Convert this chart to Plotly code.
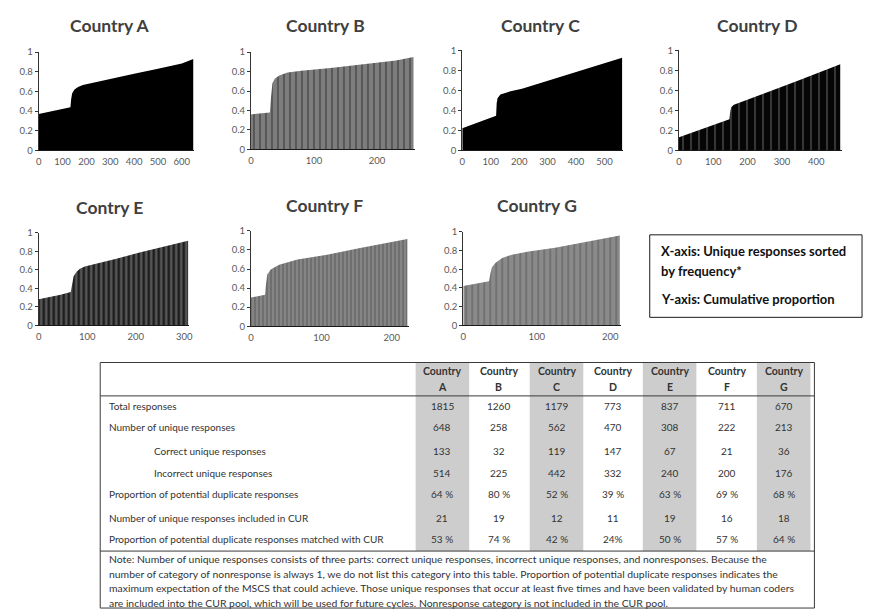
import plotly.graph_objects as go

W, H = 869, 615

# ---- cumulative proportion of responses, read at selected ranks ----
rank_a = [0, 20, 60, 100, 133, 136, 140, 150, 165, 185, 220, 300, 400, 500, 600, 648]
cum_a = [0.37, 0.38, 0.40, 0.42, 0.44, 0.52, 0.58, 0.62, 0.645, 0.665, 0.685, 0.725, 0.78, 0.83, 0.885, 0.93]

rank_b = [0, 10, 20, 30, 32, 34, 38, 45, 58, 80, 130, 180, 230, 258]
cum_b = [0.36, 0.365, 0.37, 0.38, 0.55, 0.68, 0.73, 0.76, 0.79, 0.81, 0.84, 0.875, 0.915, 0.95]

rank_c = [0, 40, 80, 119, 121, 124, 134, 150, 170, 210, 300, 400, 500, 562]
cum_c = [0.22, 0.26, 0.30, 0.345, 0.47, 0.52, 0.557, 0.575, 0.59, 0.616, 0.695, 0.783, 0.872, 0.925]

rank_d = [0, 50, 100, 147, 149, 152, 160, 175, 190, 250, 300, 350, 400, 470]
cum_d = [0.13, 0.19, 0.25, 0.31, 0.38, 0.43, 0.455, 0.475, 0.49, 0.57, 0.635, 0.70, 0.767, 0.86]

rank_e = [0, 20, 45, 66, 69, 72, 78, 85, 95, 116, 160, 210, 260, 308]
cum_e = [0.28, 0.30, 0.33, 0.36, 0.45, 0.53, 0.58, 0.61, 0.635, 0.665, 0.72, 0.79, 0.855, 0.915]

rank_f = [0, 10, 20, 21, 23, 28, 40, 66, 108, 155, 222]
cum_f = [0.30, 0.315, 0.33, 0.42, 0.54, 0.595, 0.645, 0.70, 0.75, 0.82, 0.915]

rank_g = [0, 15, 35, 37, 39, 44, 53, 66, 89, 125, 161, 213]
cum_g = [0.42, 0.44, 0.47, 0.56, 0.62, 0.67, 0.72, 0.755, 0.79, 0.83, 0.88, 0.96]

panel_titles = ["Country A", "Country B", "Country C", "Country D",
                "Contry E", "Country F", "Country G"]
panel_ranks = [rank_a, rank_b, rank_c, rank_d, rank_e, rank_f, rank_g]
panel_cums = [cum_a, cum_b, cum_c, cum_d, cum_e, cum_f, cum_g]

# ---- summary table ----
table_countries = ["A", "B", "C", "D", "E", "F", "G"]
row_labels = [
    "Total responses",
    "Number of unique responses",
    "Correct unique responses",
    "Incorrect unique responses",
    "Proportion of potential duplicate responses",
    "Number of unique responses included in CUR",
    "Proportion of potential duplicate responses matched with CUR",
]
row_indented = [False, False, True, True, False, False, False]
total_responses = [1815, 1260, 1179, 773, 837, 711, 670]
unique_responses = [648, 258, 562, 470, 308, 222, 213]
correct_unique = [133, 32, 119, 147, 67, 21, 36]
incorrect_unique = [514, 225, 442, 332, 240, 200, 176]
duplicate_share = ["64 %", "80 %", "52 %", "39 %", "63 %", "69 %", "68 %"]
cur_included = [21, 19, 12, 11, 19, 16, 18]
cur_matched = ["53 %", "74 %", "42 %", "24%", "50 %", "57 %", "64 %"]
table_rows = [total_responses, unique_responses, correct_unique, incorrect_unique,
              duplicate_share, cur_included, cur_matched]

note_lines = [
    "Note: Number of unique responses consists of three parts: correct unique responses, incorrect unique responses, and nonresponses. Because the",
    "number of category of nonresponse is always 1, we do not list this category into this table. Proportion of potential duplicate responses indicates the",
    "maximum expectation of the MSCS that could achieve. Those unique responses that occur at least five times and have been validated by human coders",
    "are included into the CUR pool, which will be used for future cycles. Nonresponse category is not included in the CUR pool.",
]

legend_lines = ["X-axis: Unique responses sorted", "by frequency*", "Y-axis: Cumulative proportion"]


def fx(px):
    return px / W


def fy(py):
    return 1 - py / H


# panel geometry in pixels: x-origin, px per unit, x max, y of 1, y of 0, x dtick, title centre
panel_geom = [
    dict(x0=36, k=0.2405, xmax=650, yt=47, yb=147, dt=100, tx=108, ty=20),
    dict(x0=250, k=0.635, xmax=260, yt=47, yb=146, dt=100, tx=325, ty=20),
    dict(x0=463, k=0.2867, xmax=565, yt=45, yb=147, dt=100, tx=542, ty=20),
    dict(x0=681.5, k=0.3458, xmax=475, yt=45, yb=147, dt=100, tx=760, ty=20),
    dict(x0=36, k=0.489, xmax=310, yt=231, yb=325, dt=100, tx=107, ty=205),
    dict(x0=250, k=0.71, xmax=225, yt=229, yb=326, dt=100, tx=324, ty=203),
    dict(x0=464, k=0.741, xmax=215, yt=230, yb=325, dt=100, tx=538, ty=203),
]

# fill look of each panel: solid black or striped grey columns
panel_fill = [
    dict(color="#000000", pattern=None),
    dict(color="#7d7d7d", pattern=dict(shape="|", bgcolor="#7d7d7d", fgcolor="#1a1a1a", size=6, solidity=0.25)),
    dict(color="#000000", pattern=None),
    dict(color="#050505", pattern=dict(shape="|", bgcolor="#050505", fgcolor="#8f8f8f", size=8, solidity=0.18)),
    dict(color="#1e1e1e", pattern=dict(shape="|", bgcolor="#1e1e1e", fgcolor="#9a9a9a", size=5, solidity=0.45)),
    dict(color="#6f6f6f", pattern=dict(shape="|", bgcolor="#6f6f6f", fgcolor="#b8b8b8", size=4, solidity=0.3)),
    dict(color="#8a8a8a", pattern=dict(shape="|", bgcolor="#8a8a8a", fgcolor="#4a4a4a", size=6, solidity=0.25)),
]

fig = go.Figure()
layout_axes = {}
annotations = []
shapes = []

tick_font = dict(family="Lato", size=9.5, color="#595959")

for i, (title, xs, ys, g, f) in enumerate(zip(panel_titles, panel_ranks, panel_cums, panel_geom, panel_fill)):
    n = i + 1
    xa = "x" if n == 1 else f"x{n}"
    ya = "y" if n == 1 else f"y{n}"
    trace = dict(
        x=xs, y=ys, mode="lines", fill="tozeroy",
        line=dict(width=0, color=f["color"]), fillcolor=f["color"],
        xaxis=xa, yaxis=ya, showlegend=False, hoverinfo="x+y",
    )
    if f["pattern"] is not None:
        trace["fillpattern"] = f["pattern"]
    fig.add_trace(go.Scatter(**trace))

    x_end = g["x0"] + g["k"] * g["xmax"]
    layout_axes["xaxis" if n == 1 else f"xaxis{n}"] = dict(
        domain=[fx(g["x0"]), fx(x_end)], range=[0, g["xmax"]], anchor=ya,
        showline=True, linecolor="#1a1a1a", linewidth=1, showgrid=False, zeroline=False,
        dtick=g["dt"], tick0=0, ticks="", tickfont=tick_font, ticklabelstandoff=2,
    )
    layout_axes["yaxis" if n == 1 else f"yaxis{n}"] = dict(
        domain=[fy(g["yb"]), fy(g["yt"])], range=[0, 1], anchor=xa,
        showline=True, linecolor="#333333", linewidth=1, showgrid=False, zeroline=False,
        dtick=0.2, tick0=0, ticks="outside", ticklen=3, tickcolor="#333333",
        tickfont=tick_font,
    )
    annotations.append(dict(
        x=fx(g["tx"]), y=fy(g["ty"]), xref="paper", yref="paper", text=title,
        showarrow=False, xanchor="center", yanchor="middle",
        font=dict(family="Lato", size=17.5, color="#404040", weight="bold"),
    ))

# ---- axis description box ----
shapes.append(dict(type="rect", xref="paper", yref="paper",
                   x0=fx(652), x1=fx(866), y0=fy(317), y1=fy(233),
                   line=dict(color="#1a1a1a", width=1)))
for txt, yy in zip(legend_lines, [249, 270, 298]):
    annotations.append(dict(
        x=fx(661), y=fy(yy), xref="paper", yref="paper", text=txt, showarrow=False,
        xanchor="left", yanchor="middle",
        font=dict(family="Lato", size=13, color="#111111", weight="bold"),
    ))

# ---- table ----
tbl_left, tbl_right, tbl_top, tbl_bottom = 98, 818, 363, 613
head_line, note_line = 397, 555
col_x = [443, 500, 558, 615, 672, 730, 787]
shade_half = 27
row_y = [407, 429, 453, 475, 497, 521, 543]
note_y = [563, 578, 593, 608]

for j, cx in enumerate(col_x):
    if j % 2 == 0:
        shapes.append(dict(type="rect", xref="paper", yref="paper", layer="below",
                           x0=fx(cx - shade_half), x1=fx(cx + shade_half),
                           y0=fy(note_line), y1=fy(tbl_top),
                           fillcolor="#cdcdcd", line=dict(width=0)))

shapes.append(dict(type="rect", xref="paper", yref="paper",
                   x0=fx(tbl_left), x1=fx(tbl_right), y0=fy(tbl_bottom), y1=fy(tbl_top),
                   line=dict(color="#3a3a3a", width=1)))
for ly in (head_line, note_line):
    shapes.append(dict(type="line", xref="paper", yref="paper",
                       x0=fx(tbl_left), x1=fx(tbl_right), y0=fy(ly), y1=fy(ly),
                       line=dict(color="#3a3a3a", width=1)))

head_font = dict(family="Lato", size=10.5, color="#333333", weight="bold")
cell_font = dict(family="Lato", size=10, color="#333333")

for cx, letter in zip(col_x, table_countries):
    annotations.append(dict(x=fx(cx), y=fy(372), xref="paper", yref="paper", text="Country",
                            showarrow=False, xanchor="center", yanchor="middle", font=head_font))
    annotations.append(dict(x=fx(cx), y=fy(388), xref="paper", yref="paper", text=letter,
                            showarrow=False, xanchor="center", yanchor="middle", font=head_font))

for label, indent, ry, vals in zip(row_labels, row_indented, row_y, table_rows):
    annotations.append(dict(x=fx(150 if indent else 105), y=fy(ry), xref="paper", yref="paper",
                            text=label, showarrow=False, xanchor="left", yanchor="middle",
                            font=cell_font))
    for cx, v in zip(col_x, vals):
        annotations.append(dict(x=fx(cx), y=fy(ry), xref="paper", yref="paper", text=str(v),
                                showarrow=False, xanchor="center", yanchor="middle",
                                font=cell_font))

for txt, ny in zip(note_lines, note_y):
    annotations.append(dict(x=fx(105), y=fy(ny), xref="paper", yref="paper", text=txt,
                            showarrow=False, xanchor="left", yanchor="middle",
                            font=dict(family="Lato", size=10.4, color="#333333")))

fig.update_layout(
    width=W, height=H, margin=dict(l=0, r=0, t=0, b=0),
    paper_bgcolor="white", plot_bgcolor="white",
    annotations=annotations, shapes=shapes, showlegend=False,
    **layout_axes,
)

fig.write_html("out.html")
